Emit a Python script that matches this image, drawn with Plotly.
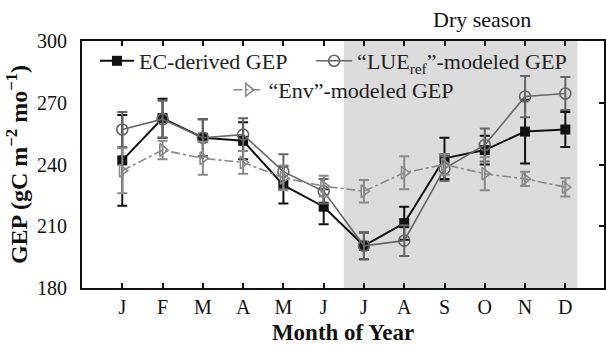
import plotly.graph_objects as go

months = ["J", "F", "M", "A", "M", "J", "J", "A", "S", "O", "N", "D"]
month_pos = [1, 2, 3, 4, 5, 6, 7, 8, 9, 10, 11, 12]

ec_gep = [242, 262.5, 253, 251.5, 230, 219.5, 200.5, 211.5, 243, 247, 256, 257]
ec_err = [22, 9.5, 9, 9, 9, 8.5, 6.5, 8, 10, 7, 15.5, 8.5]

lue_gep = [257, 262, 253, 254.5, 236.5, 227, 200.5, 203, 238, 249.5, 273, 274.5]
lue_err = [8.5, 9, 9, 8, 8.5, 6, 6.5, 7.5, 6, 8, 10, 8]

env_gep = [237, 247, 243, 241, 233.5, 229.5, 227, 236, 240, 235.5, 233, 229]
env_err = [11, 4.5, 8, 5.5, 6, 5, 5.5, 8, 5, 8, 3.5, 4.5]

dry_season = (6.5, 12.3)
y_ticks = [180, 210, 240, 270, 300]

FONT = "Liberation Serif"
W, H = 606, 345
ML, MR, MT, MB = 82, 0, 41, 57
PW = W - ML - MR
PH = H - MT - MB

def px_x(p):
    return (p - ML) / PW

def px_y(p):
    return (H - MB - p) / PH

fig = go.Figure()

fig.add_trace(go.Scatter(
    x=month_pos, y=ec_gep, mode="lines+markers", name="EC-derived GEP",
    line=dict(color="#111111", width=2),
    marker=dict(symbol="square", size=10, color="#111111"),
    error_y=dict(type="data", array=ec_err, color="#111111", thickness=2, width=5),
    legend="legend",
))
fig.add_trace(go.Scatter(
    x=month_pos, y=lue_gep, mode="lines+markers",
    name="“LUE<sub>ref</sub>”-modeled GEP",
    line=dict(color="#666666", width=1.6),
    marker=dict(symbol="circle-open", size=11, color="#666666", line=dict(width=1.6)),
    error_y=dict(type="data", array=lue_err, color="#666666", thickness=2, width=5),
    legend="legend2",
))
fig.add_trace(go.Scatter(
    x=month_pos, y=env_gep, mode="lines+markers",
    name="“Env”-modeled GEP",
    line=dict(color="#8a8a8a", width=1.6, dash="dashdot"),
    marker=dict(symbol="triangle-right-open", size=11, color="#8a8a8a", line=dict(width=1.6)),
    error_y=dict(type="data", array=env_err, color="#8a8a8a", thickness=2, width=5),
    legend="legend3",
))
# helper trace so the right-hand y axis is drawn
fig.add_trace(go.Scatter(x=[None], y=[None], yaxis="y2", showlegend=False, hoverinfo="skip"))

fig.add_shape(type="rect", xref="x", yref="y", x0=dry_season[0], x1=dry_season[1],
              y0=180, y1=300, fillcolor="#dcdcdc", line=dict(width=0), layer="below")

fig.add_annotation(text="Dry season", x=px_x(484), y=px_y(20), xref="paper", yref="paper",
                   xanchor="center", yanchor="middle",
                   showarrow=False, font=dict(family=FONT, size=22, color="#111"))

def legend_cfg(x, y, itemwidth):
    return dict(bgcolor="rgba(0,0,0,0)", font=dict(family=FONT, size=22, color="#222"),
                xanchor="left", yanchor="middle", orientation="h", itemclick=False,
                x=px_x(x), y=px_y(y), itemwidth=itemwidth)

fig.update_layout(
    width=W, height=H,
    margin=dict(l=ML, r=MR, t=MT, b=MB),
    paper_bgcolor="white", plot_bgcolor="white",
    font=dict(family=FONT, size=20, color="#111"),
    legend=legend_cfg(95, 61, 34),
    legend2=legend_cfg(312, 61, 36),
    legend3=legend_cfg(229, 90, 30),
    xaxis=dict(
        range=[0, 12.96], tickmode="array", tickvals=month_pos, ticktext=months,
        ticks="inside", ticklen=5, tickwidth=1.5, tickcolor="#111",
        showline=True, linecolor="#111", linewidth=2, mirror="ticks",
        showgrid=False, zeroline=False, ticklabelstandoff=0,
        tickfont=dict(family=FONT, size=20, color="#111"),
        title=dict(text="<b>Month of Year</b>", font=dict(family=FONT, size=23, color="#111"), standoff=8),
    ),
    yaxis=dict(
        range=[180, 300], tickmode="array", tickvals=y_ticks,
        ticks="", showline=True, linecolor="#111", linewidth=2, mirror=True,
        showgrid=False, zeroline=False, ticklabelstandoff=9,
        tickfont=dict(family=FONT, size=20, color="#111"),
        title=dict(text="<b>GEP (gC m<sup>−2</sup> mo<sup>−1</sup>)</b>",
                   font=dict(family=FONT, size=24, color="#111"), standoff=3),
    ),
    yaxis2=dict(
        range=[180, 300], overlaying="y", side="right", tickmode="array", tickvals=y_ticks,
        ticks="inside", ticklen=5, tickwidth=1.5, tickcolor="#111",
        showticklabels=False, showgrid=False, zeroline=False, showline=False,
    ),
)

fig.write_html("out.html")
